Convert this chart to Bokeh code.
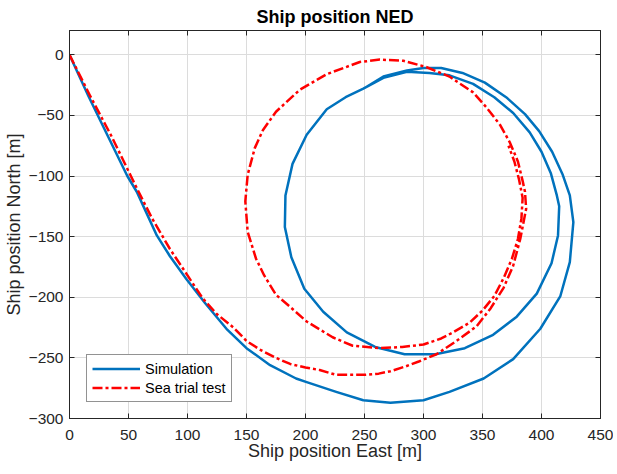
from bokeh.plotting import figure
from bokeh.models import LinearAxis, FixedTicker, Range1d, Legend, LegendItem
from bokeh.embed import file_html
from bokeh.resources import INLINE

# Simulation trajectory (East, North) [m]
east_sim = [0, 16, 33, 49, 57, 65, 74, 85, 99, 115,
            133, 150, 170, 192, 201, 226, 249, 272, 300, 322,
            351, 376, 399, 416, 424, 427, 424, 418, 409, 398,
            386, 370, 352, 333, 315, 300, 286, 266, 249, 234,
            218, 201, 189, 183, 182.5, 188, 199, 215, 235, 259,
            284, 310, 335, 359, 379, 396, 408.5, 414, 415, 413,
            408, 400, 390, 376, 360, 342, 322, 305, 286, 266,
            249, 234, 218]
north_sim = [0, -34, -68, -100, -113, -130, -149, -166, -185, -205,
             -226, -242, -256, -267, -270, -278, -285, -287, -285, -278,
             -267, -251, -226, -199, -171, -138, -116, -99, -80, -63,
             -49, -35, -23, -15, -11, -11, -13, -18, -28, -35,
             -45, -66, -90, -116, -142, -167, -193, -212, -229, -241,
             -247, -247, -242, -231, -216, -197, -172, -149, -125, -116,
             -98, -80, -64, -48, -35, -24, -17, -15, -14, -19,
             -28, -35, -45]

# Sea trial test trajectory (East, North) [m]
east_sea = [0, 17, 36, 52, 57, 70, 85, 100, 113, 125,
            139, 150, 161, 175, 187, 200, 212, 226, 240, 250,
            262, 272, 285, 296, 311, 328, 345, 357, 368, 376,
            382, 387, 386, 384, 380, 373, 365, 353, 342, 322,
            302, 283, 263, 246, 232, 218, 195, 175, 164, 157,
            151, 149, 151, 158, 165, 175, 187, 201, 223, 240,
            263, 282, 300, 315, 325, 339, 350, 360, 368, 375,
            380, 383, 384, 381, 377, 372]
north_sea = [0, -33, -68, -100, -110, -135, -160, -182, -201, -214,
             -225, -236, -243, -250, -255, -258, -260, -264, -264, -264,
             -263, -261, -257, -253, -247, -236, -224, -209, -192, -174,
             -152, -127, -113, -104, -88, -72, -58, -43, -31, -18,
             -10, -5, -4, -6, -11, -16, -29, -47, -62, -77,
             -99, -121, -146, -168, -182, -198, -208, -220, -233, -240,
             -242, -241, -239, -234, -229, -221, -211, -199, -184, -168,
             -152, -135, -118, -103, -88, -75]

x_ticks = [0, 50, 100, 150, 200, 250, 300, 350, 400, 450]
y_ticks = [-300, -250, -200, -150, -100, -50, 0]

FONT = "Liberation Sans"
AX = "#262626"

p = figure(frame_width=531, frame_height=388,
           x_range=Range1d(0, 450), y_range=Range1d(-300, 20),
           output_backend="svg", toolbar_location=None,
           min_border_left=65, min_border_right=13,
           min_border_top=24, min_border_bottom=42,
           title="Ship position NED")

p.title.text_font = FONT
p.title.text_font_size = "18px"
p.title.text_font_style = "bold"
p.title.text_color = "#000000"
p.title.align = "center"
p.title.standoff = 8
p.title.offset = 0

p.outline_line_color = AX
p.outline_line_width = 1
p.background_fill_color = "white"
p.border_fill_color = "white"

for ax in (p.xaxis[0], p.yaxis[0]):
    ax.major_label_text_font = FONT
    ax.major_label_text_font_size = "15.5px"
    ax.major_label_text_color = AX
    ax.axis_label_text_font = FONT
    ax.axis_label_text_font_size = "18px"
    ax.axis_label_text_font_style = "normal"
    ax.axis_label_text_color = AX
    ax.axis_line_color = AX
    ax.major_tick_line_color = AX
    ax.major_tick_in = 5
    ax.major_tick_out = 0
    ax.minor_tick_line_color = None

p.xaxis[0].ticker = FixedTicker(ticks=x_ticks)
p.yaxis[0].ticker = FixedTicker(ticks=y_ticks)
p.xaxis[0].axis_label = "Ship position East [m]"
p.yaxis[0].axis_label = "Ship position North [m]"
p.xaxis[0].major_label_standoff = 11
p.xaxis[0].axis_label_standoff = -2
p.yaxis[0].major_label_standoff = 6
p.yaxis[0].axis_label_standoff = 2

for loc, ticks in (("above", x_ticks), ("right", y_ticks)):
    a = LinearAxis(ticker=FixedTicker(ticks=ticks),
                   major_label_text_font_size="0px",
                   major_label_text_color=None,
                   major_label_standoff=0,
                   axis_label_standoff=0,
                   major_tick_in=5, major_tick_out=0,
                   major_tick_line_color=AX,
                   minor_tick_line_color=None,
                   axis_line_color=AX)
    p.add_layout(a, loc)

p.xgrid.ticker = FixedTicker(ticks=x_ticks)
p.ygrid.ticker = FixedTicker(ticks=y_ticks)
for g in (p.xgrid[0], p.ygrid[0]):
    g.grid_line_color = "#dcdcdc"
    g.grid_line_width = 1

r_sim = p.line(east_sim, north_sim, line_color="#0072BD", line_width=2.5,
               line_join="round")
r_sea = p.line(east_sea, north_sea, line_color="#FF0000", line_width=2.5,
               line_dash="10 3 3 3", line_join="round")

legend = Legend(items=[LegendItem(label="Simulation", renderers=[r_sim]),
                       LegendItem(label="Sea trial test", renderers=[r_sea])],
                location=(17, 16))
legend.label_text_font = FONT
legend.label_text_font_size = "14.5px"
legend.label_text_color = "#000000"
legend.glyph_width = 48
legend.glyph_height = 17
legend.label_height = 17
legend.label_standoff = 5
legend.spacing = 2
legend.padding = 5
legend.margin = 0
legend.border_line_color = AX
legend.border_line_width = 1
legend.background_fill_color = "white"
legend.background_fill_alpha = 1
p.add_layout(legend)

open("out.html", "w").write(file_html(p, INLINE))
